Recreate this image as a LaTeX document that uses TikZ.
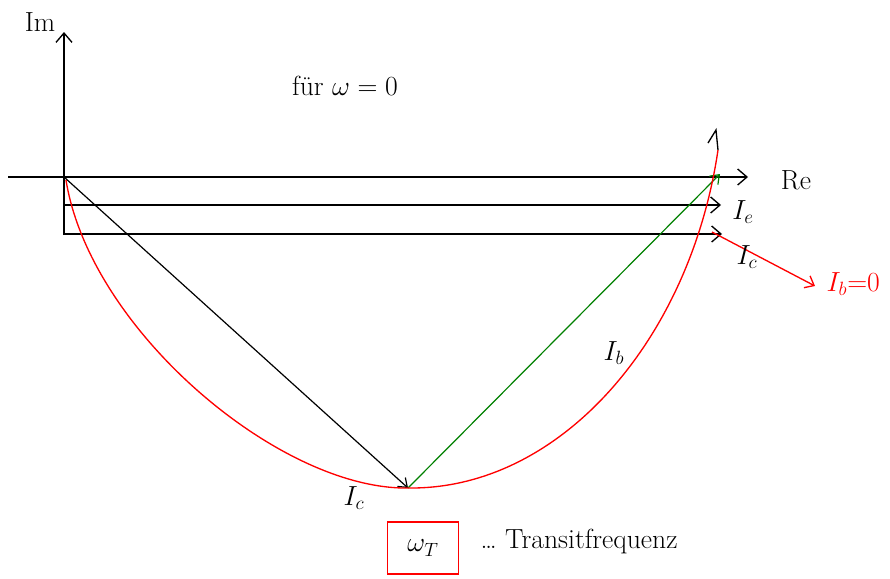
\documentclass[tikz,border=0pt]{standalone}
\usetikzlibrary{arrows.meta}
\begin{document}
\begin{tikzpicture}[x=0.75pt,y=-0.75pt,
  ax/.style={line width=1pt,-{Straight Barb[length=7pt,width=12pt]}},
  vec/.style={line width=0.9pt,-{Straight Barb[length=6pt,width=9pt]}},
  lbl/.style={font=\huge},
  rlbl/.style={font=\huge,text=red}]
\useasboundingbox (0,0) rectangle (890,579);
% coordinates
\coordinate (O) at (64,177);
\coordinate (imtop) at (64,32);
\coordinate (imbot) at (64,235);
\coordinate (releft) at (8,177);
\coordinate (retip) at (748,177);
\coordinate (estart) at (64,205);
\coordinate (etip) at (721,205);
\coordinate (cstart) at (64,234);
\coordinate (ctip) at (722,234);
\coordinate (P) at (408,488);
\coordinate (Q) at (720,174);
\coordinate (E) at (718,150);
\coordinate (rs) at (712,232);
\coordinate (rt) at (815,286);
% axes
\draw[ax] (imbot) -- (imtop);
\draw[ax] (releft) -- (retip);
\draw[ax] (estart) -- (etip);
\draw[ax] (cstart) -- (ctip);
% vectors
\draw[vec,black] (O) -- (P);
\draw[vec,green!50!black] (P) -- (Q);
% locus
\draw[red,line width=1pt] (66,180) .. controls (90,330) and (280,490) .. (P)
  .. controls (560,490) and (690,340) .. (E);
\draw[black,line width=1pt] (708,143) -- (716,130) -- (718,150);
\draw[red,line width=1pt,-{Straight Barb[length=6pt,width=10pt]}] (rs) -- (rt);
% labels
\node[lbl] (lim) at (40,22) {Im};
\node[lbl] (lfuer) at (345,86) {für $\omega=0$};
\node[lbl] (lre) at (796,180) {Re};
\node[lbl] (lie) at (743,212) {$I_e$};
\node[lbl] (lic) at (747,257) {$I_c$};
\node[rlbl,anchor=west] (lib0) at (822,284) {$I_b{=}0$};
\node[lbl] (lib) at (614,353) {$I_b$};
\node[lbl] (lic2) at (354,498) {$I_c$};
\node[lbl,draw=red,line width=1pt,minimum width=53pt,minimum height=39pt,inner sep=3pt] (wt) at (423,548) {$\omega_T$};
\node[lbl,anchor=west] (ltr) at (476,541) {\dots\ Transitfrequenz};
\end{tikzpicture}
\end{document}
